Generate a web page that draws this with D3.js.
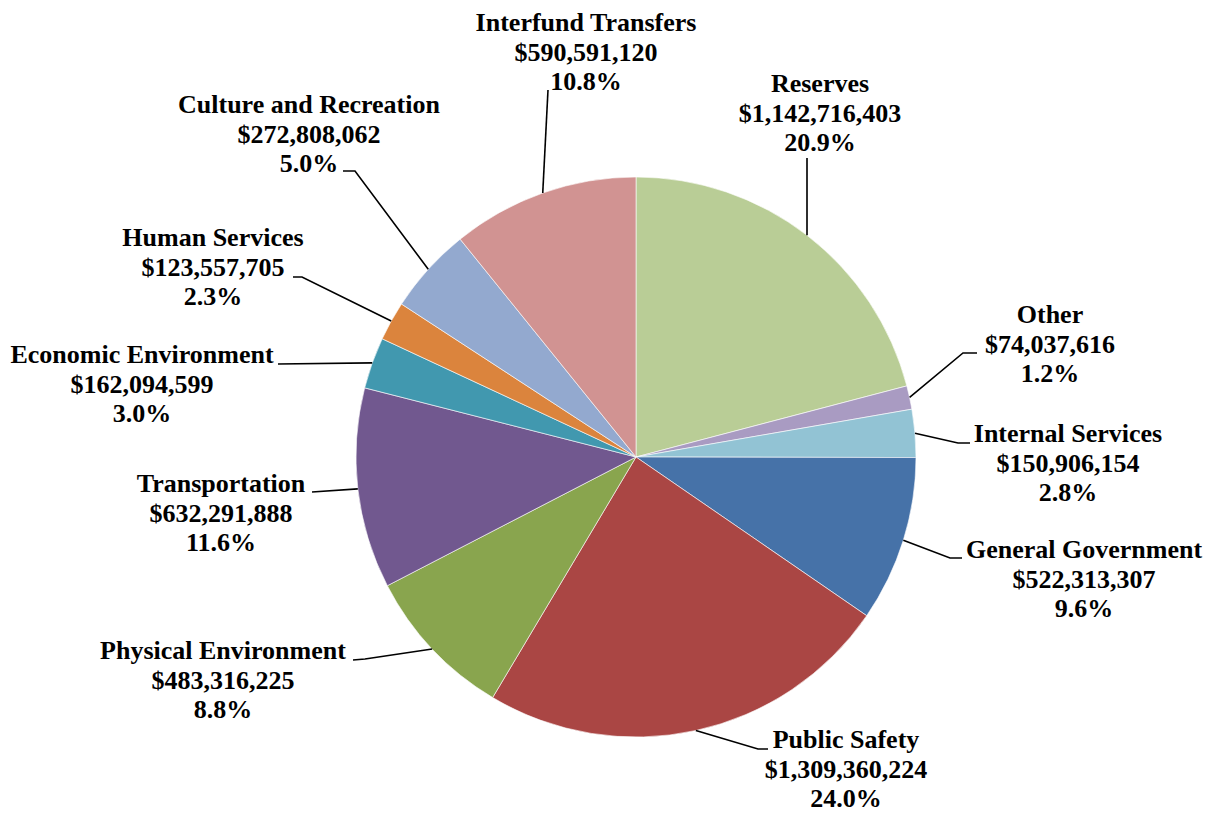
<!DOCTYPE html>
<html>
<head>
<meta charset="utf-8">
<script src="https://cdn.jsdelivr.net/npm/d3@7.9.0/dist/d3.min.js"></script>
<style>
  body { margin: 0; background: #fff; }
  svg text { font-family: "Liberation Serif", "Times New Roman", serif; font-weight: bold; fill: #000; }
</style>
</head>
<body>
<svg id="pie"></svg>
<script>
// data (clockwise from 12 o'clock)
const categories = ["Reserves", "Other", "Internal Services", "General Government", "Public Safety",
  "Physical Environment", "Transportation", "Economic Environment", "Human Services",
  "Culture and Recreation", "Interfund Transfers"];
const amounts = [1142716403, 74037616, 150906154, 522313307, 1309360224,
  483316225, 632291888, 162094599, 123557705, 272808062, 590591120];
const pctLabels = ["20.9%", "1.2%", "2.8%", "9.6%", "24.0%", "8.8%", "11.6%", "3.0%", "2.3%", "5.0%", "10.8%"];
const colors = ["#B9CD96", "#A99BC2", "#92C3D4", "#4672A8", "#AA4644", "#89A54E",
  "#71588F", "#4198AF", "#DB843D", "#93A9CF", "#D19392"];

// label layout: centre x, first baseline y, leader knee and stub end near the label
const labelLayout = {
  "Reserves":               { cx: 820,  y: 92,  knee: [807, 158] },
  "Other":                  { cx: 1050, y: 323, knee: [963, 353], stub: [977, 353] },
  "Internal Services":      { cx: 1068, y: 442, knee: [958, 443], stub: [970, 443] },
  "General Government":     { cx: 1084, y: 558, knee: [950, 558], stub: [962, 558] },
  "Public Safety":          { cx: 846,  y: 748, knee: [758, 749], stub: [768, 749] },
  "Physical Environment":   { cx: 223,  y: 659, knee: [365, 659], stub: [353, 660] },
  "Transportation":         { cx: 221,  y: 492, knee: [312, 492] },
  "Economic Environment":   { cx: 142,  y: 363, knee: [278, 364] },
  "Human Services":         { cx: 213,  y: 246, knee: [302, 277], stub: [293, 277] },
  "Culture and Recreation": { cx: 309,  y: 113, knee: [355, 171], stub: [343, 171] },
  "Interfund Transfers":    { cx: 586,  y: 31,  knee: [548, 90] }
};

const width = 1211, height = 815;
const cx = 636, cy = 457, radius = 280, lineH = 29.7;
const fmt = d3.format("$,");

const svg = d3.select("#pie").attr("width", width).attr("height", height);

const data = categories.map((c, i) => ({ name: c, value: amounts[i], pct: pctLabels[i], color: colors[i] }));
const pie = d3.pie().sort(null).value(d => d.value);
const arc = d3.arc().innerRadius(0).outerRadius(radius);
const arcs = pie(data);

const g = svg.append("g").attr("transform", `translate(${cx},${cy})`);
g.selectAll("path.slice")
  .data(arcs)
  .enter()
  .append("path")
  .attr("class", "slice")
  .attr("d", arc)
  .attr("fill", d => d.data.color)
  .attr("stroke", "#fff")
  .attr("stroke-width", 0.6);

// leader lines
arcs.forEach(a => {
  const lay = labelLayout[a.data.name];
  const mid = (a.startAngle + a.endAngle) / 2;
  const pts = [[cx + radius * Math.sin(mid), cy - radius * Math.cos(mid)], lay.knee];
  if (lay.stub) pts.push(lay.stub);
  svg.append("path")
    .attr("d", d3.line()(pts))
    .attr("fill", "none")
    .attr("stroke", "#000")
    .attr("stroke-width", 1.6);
});

// labels
arcs.forEach(a => {
  const lay = labelLayout[a.data.name];
  const t = svg.append("text")
    .attr("text-anchor", "middle")
    .attr("font-size", 26);
  [a.data.name, fmt(a.data.value), a.data.pct].forEach((s, i) => {
    t.append("tspan").attr("x", lay.cx).attr("y", lay.y + i * lineH).text(s);
  });
});
</script>
</body>
</html>
